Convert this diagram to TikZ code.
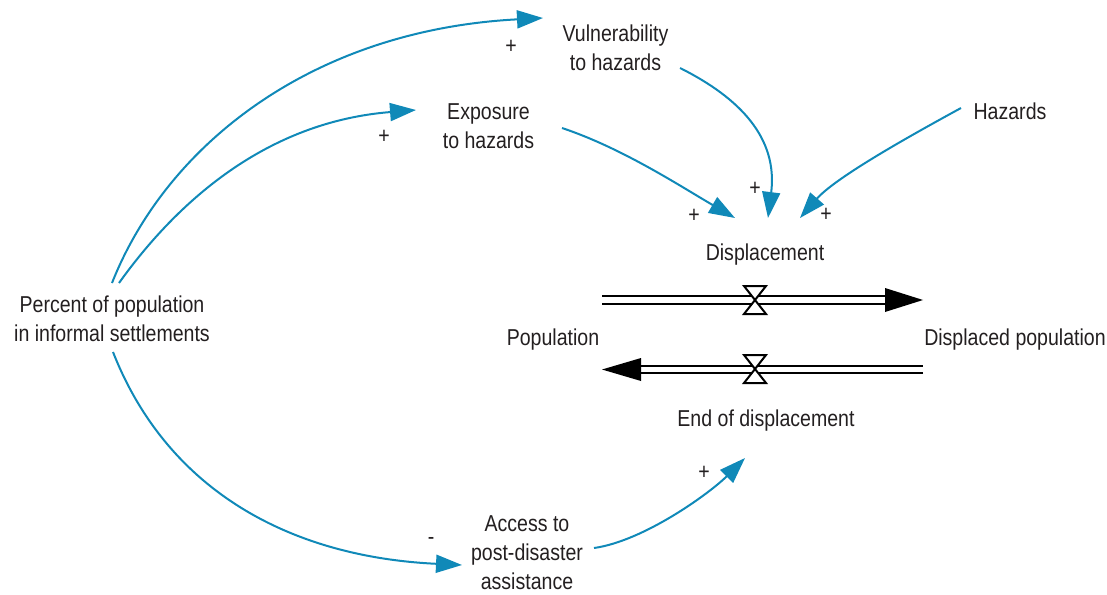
\documentclass[tikz,border=0pt]{standalone}
\usepackage{fontspec}
\setmainfont{Liberation Sans}[FakeStretch=0.85]
\usetikzlibrary{arrows.meta}
\definecolor{linkblue}{RGB}{16,137,184}
\definecolor{txt}{RGB}{35,31,32}
\begin{document}
\begin{tikzpicture}[x=1pt,y=-1pt,
  lbl/.style={font=\fontsize{23}{29}\selectfont, text=txt, align=center, inner sep=0pt},
  sgn/.style={font=\fontsize{23}{29}\selectfont, text=txt, inner sep=0pt},
  link/.style={draw=linkblue, line width=2pt, -{Triangle[length=26pt,width=18pt]}},
  pipe/.style={double distance=5.5pt, line width=2pt, draw=black},
  valve/.style={draw=black, fill=white, line width=2pt, line join=miter},
  head/.style={fill=black}]
\useasboundingbox (0,0) rectangle (1107,594);
% variables
\node[lbl] (vul) at (615.5,48) {Vulnerability\\to hazards};
\node[lbl] (exp) at (488.5,126) {Exposure\\to hazards};
\node[lbl] (haz) at (1010,111.5) {Hazards};
\node[lbl] (disp) at (765,255) {Displacement};
\node[lbl] (pop) at (553,339.5) {Population};
\node[lbl] (dpop) at (1015,339.5) {Displaced population};
\node[lbl] (enddisp) at (766,420.5) {End of displacement};
\node[lbl] (pct) at (112,318.5) {Percent of population\\in informal settlements};
\node[lbl] (acc) at (527,553) {Access to\\post-disaster\\assistance};
% polarity signs
\node[sgn] (s1) at (511,47) {+};
\node[sgn] (s2) at (384,137) {+};
\node[sgn] (s3) at (694,216) {+};
\node[sgn] (s4) at (755,189) {+};
\node[sgn] (s5) at (826,215) {+};
\node[sgn] (s6) at (431,541) {-};
\node[sgn] (s7) at (704,473) {+};
% causal links
\draw[link] ([shift={(0,-35.5)}]pct.center) .. controls +(55,-139) and +(-230,12) .. ([shift={(-72.5,-30)}]vul.center);
\draw[link] ([shift={(7,-35.5)}]pct.center) .. controls +(58,-81) and +(-150,12) .. ([shift={(-72.5,-16)}]exp.center);
\draw[link] ([shift={(73.5,2)}]exp.center) .. controls +(60,20) and +(-55,-32) .. ([shift={(-30,-37)}]disp.center);
\draw[link] ([shift={(64.5,20)}]vul.center) .. controls +(60,30) and +(10,-80) .. ([shift={(3,-37)}]disp.center);
\draw[link] ([shift={(-49,-3.5)}]haz.center) .. controls +(-55,30) and +(35,-40) .. ([shift={(35,-37)}]disp.center);
\draw[link] ([shift={(1,33.5)}]pct.center) .. controls +(55,140) and +(-170,-8) .. ([shift={(-65,12)}]acc.center);
\draw[link] ([shift={(67,-5)}]acc.center) .. controls +(50,-7) and +(-35,35) .. ([shift={(-21,37.5)}]enddisp.center);
% flows
\coordinate (f1a) at (602,300);
\coordinate (f1b) at (885,300);
\coordinate (f1c) at (923,300);
\draw[pipe] (f1a) -- (f1b);
\fill[head] (f1c) -- ([yshift=12pt]f1b) -- ([yshift=-12pt]f1b) -- cycle;
\draw[valve] (744,286) -- (766,286) -- (755,300) -- cycle;
\draw[valve] (744,314) -- (766,314) -- (755,300) -- cycle;
\coordinate (f2a) at (923,369.5);
\coordinate (f2b) at (641,369.5);
\coordinate (f2c) at (602,369.5);
\draw[pipe] (f2a) -- (f2b);
\fill[head] (f2c) -- ([yshift=11.5pt]f2b) -- ([yshift=-11.5pt]f2b) -- cycle;
\draw[valve] (744,355) -- (766,355) -- (755,369) -- cycle;
\draw[valve] (744,383) -- (766,383) -- (755,369) -- cycle;
\end{tikzpicture}
\end{document}
